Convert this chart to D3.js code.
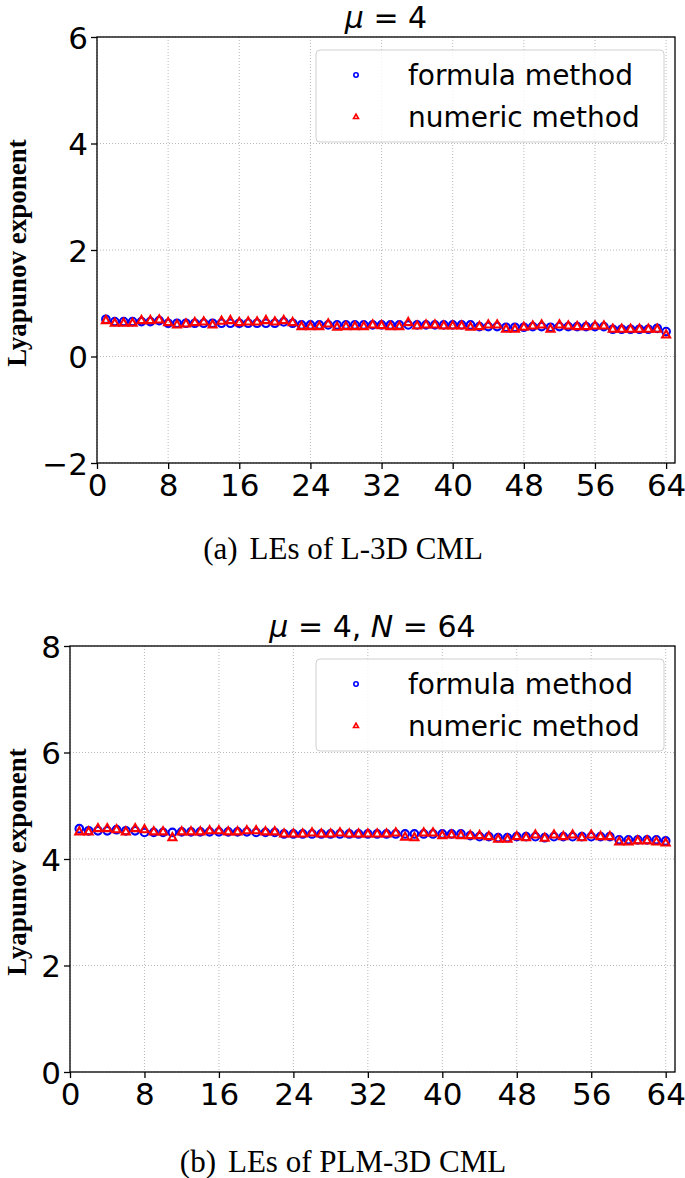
<!DOCTYPE html>
<html><head><meta charset="utf-8">
<script src="https://cdn.jsdelivr.net/npm/d3@7"></script>
<style>body{margin:0;background:#fff}</style>
</head><body><svg id="c" width="685" height="1178" xmlns="http://www.w3.org/2000/svg"></svg>
<script>
// ---------- data ----------
const xIndex = d3.range(1, 65);
const xTicks = [0, 8, 16, 24, 32, 40, 48, 56, 64];
const yTicksTop = [-2, 0, 2, 4, 6];
const yTicksBottom = [0, 2, 4, 6, 8];
const seriesNames = ["formula method", "numeric method"];

const topFormula = [0.70,0.655,0.655,0.655,0.655,0.655,0.674,0.624,0.624,0.624,
  0.624,0.624,0.624,0.624,0.624,0.624,0.624,0.624,0.624,0.624,
  0.649,0.624,0.593,0.593,0.593,0.593,0.593,0.593,0.593,0.593,
  0.593,0.593,0.593,0.593,0.593,0.593,0.593,0.593,0.593,0.593,
  0.593,0.593,0.562,0.562,0.562,0.549,0.549,0.549,0.562,0.562,
  0.549,0.562,0.562,0.562,0.562,0.562,0.562,0.512,0.512,0.512,
  0.512,0.512,0.530,0.468];
const topNumeric = [0.674,0.624,0.624,0.624,0.674,0.674,0.687,0.637,0.593,0.612,
  0.637,0.649,0.593,0.662,0.674,0.637,0.649,0.649,0.674,0.649,
  0.674,0.637,0.562,0.562,0.562,0.612,0.549,0.562,0.562,0.562,
  0.593,0.580,0.562,0.562,0.637,0.574,0.593,0.593,0.574,0.574,
  0.574,0.549,0.562,0.593,0.593,0.512,0.512,0.549,0.574,0.593,
  0.512,0.593,0.574,0.562,0.562,0.574,0.574,0.512,0.512,0.512,
  0.512,0.512,0.512,0.405];

const bottomFormula = [4.57,4.53,4.53,4.53,4.55,4.53,4.53,4.50,4.50,4.50,
  4.50,4.51,4.51,4.51,4.51,4.51,4.51,4.51,4.51,4.50,
  4.50,4.50,4.47,4.47,4.47,4.47,4.47,4.47,4.47,4.47,
  4.47,4.47,4.47,4.47,4.47,4.47,4.47,4.47,4.47,4.47,
  4.47,4.47,4.44,4.42,4.42,4.40,4.40,4.42,4.42,4.42,
  4.40,4.42,4.42,4.42,4.42,4.42,4.42,4.42,4.36,4.36,
  4.36,4.36,4.36,4.34];
const bottomNumeric = [4.51,4.51,4.57,4.57,4.55,4.51,4.57,4.55,4.51,4.51,
  4.40,4.51,4.51,4.51,4.53,4.53,4.51,4.51,4.53,4.53,
  4.51,4.51,4.47,4.47,4.47,4.49,4.47,4.47,4.49,4.47,
  4.47,4.47,4.47,4.47,4.49,4.41,4.40,4.49,4.49,4.44,
  4.45,4.44,4.44,4.44,4.42,4.37,4.37,4.42,4.40,4.45,
  4.39,4.45,4.42,4.45,4.40,4.45,4.42,4.42,4.32,4.32,
  4.34,4.34,4.32,4.30];

// ---------- drawing ----------
const svg = d3.select("#c");
svg.append("rect").attr("width",685).attr("height",1178).attr("fill","#fff");

const SANS = "DejaVu Sans, sans-serif";
const SERIF = "Liberation Serif, Times New Roman, serif";

function trianglePath(cx, cy, r){
  return `M${cx},${cy-r*1.1}L${cx+r*0.95},${cy+r*0.6}L${cx-r*0.95},${cy+r*0.6}Z`;
}

function drawPanel(cfg){
  const g = svg.append("g");
  const x = d3.scaleLinear().domain([0,65]).range([cfg.left, cfg.right]);
  const y = d3.scaleLinear().domain(cfg.yDomain).range([cfg.bottom, cfg.top]);

  // grid
  const grid = g.append("g").attr("stroke","#b0b0b0").attr("stroke-width",0.9).attr("stroke-dasharray","1,2");
  grid.selectAll("line.gx").data(xTicks).join("line")
    .attr("x1",d=>x(d)).attr("x2",d=>x(d)).attr("y1",cfg.top).attr("y2",cfg.bottom);
  grid.selectAll("line.gy").data(cfg.yTicks).join("line")
    .attr("y1",d=>y(d)).attr("y2",d=>y(d)).attr("x1",cfg.left).attr("x2",cfg.right);

  // axes
  const xAxis = d3.axisBottom(x).tickValues(xTicks).tickSize(6).tickPadding(3).tickFormat(d3.format("d"));
  const yAxis = d3.axisLeft(y).tickValues(cfg.yTicks).tickSize(6).tickPadding(3)
     .tickFormat(d => d < 0 ? "\u2212" + Math.abs(d) : d);
  const gx = g.append("g").attr("transform",`translate(0,${cfg.bottom})`).call(xAxis);
  const gy = g.append("g").attr("transform",`translate(${cfg.left},0)`).call(yAxis);
  [gx, gy].forEach(a => {
    a.select(".domain").remove();
    a.selectAll("line").attr("stroke","#000").attr("stroke-width",1.3);
    a.selectAll("text").attr("font-family",SANS).attr("font-size",31).attr("fill","#000");
  });
  gx.selectAll("text").attr("dy","0.78em");
  gy.selectAll("text").attr("dy","0.36em");

  // frame
  g.append("rect").attr("x",cfg.left).attr("y",cfg.top)
    .attr("width",cfg.right-cfg.left).attr("height",cfg.bottom-cfg.top)
    .attr("fill","none").attr("stroke","#000").attr("stroke-width",1.3);

  // points
  const pts = g.append("g");
  pts.selectAll("circle").data(cfg.formula).join("circle")
    .attr("cx",(d,i)=>x(xIndex[i])).attr("cy",d=>y(d)).attr("r",3.8)
    .attr("fill","none").attr("stroke","#0000ff").attr("stroke-width",2.1);
  pts.selectAll("path").data(cfg.numeric).join("path")
    .attr("d",(d,i)=>trianglePath(x(xIndex[i]), y(d), 4.2))
    .attr("fill","none").attr("stroke","#ff0000").attr("stroke-width",2.1).attr("stroke-linejoin","miter");

  // legend
  const lg = g.append("g");
  lg.append("rect").attr("x",cfg.legend.x).attr("y",cfg.legend.y)
    .attr("width",cfg.legend.w).attr("height",cfg.legend.h).attr("rx",4)
    .attr("fill","#fff").attr("fill-opacity",0.8).attr("stroke","#d0d0d0").attr("stroke-width",1);
  const lx = cfg.legend.x + 40, tx = cfg.legend.x + 92;
  const r1 = cfg.legend.y + 25, r2 = cfg.legend.y + 67;
  lg.append("circle").attr("cx",lx).attr("cy",r1).attr("r",2.2)
    .attr("fill","none").attr("stroke","#0000ff").attr("stroke-width",1.6);
  lg.append("path").attr("d",trianglePath(lx, r2, 2.6))
    .attr("fill","none").attr("stroke","#ff0000").attr("stroke-width",1.6);
  lg.selectAll("text").data(seriesNames).join("text")
    .attr("x",tx).attr("y",(d,i)=> i===0 ? r1 : r2).attr("dy","0.36em")
    .attr("font-family",SANS).attr("font-size",28).attr("fill","#000").text(d=>d);

  // title
  const t = g.append("text").attr("x",(cfg.left+cfg.right)/2).attr("y",cfg.top-9)
    .attr("text-anchor","middle").attr("font-family",SANS).attr("font-size",30).attr("fill","#000");
  cfg.title.forEach(p => t.append("tspan").attr("font-style",p.it?"italic":"normal").text(p.s));

  // y label
  g.append("text").attr("transform",`translate(26,${(cfg.top+cfg.bottom)/2+3}) rotate(-90)`)
    .attr("text-anchor","middle").attr("font-family",SERIF).attr("font-weight","bold")
    .attr("font-size",27).attr("fill","#000").text("Lyapunov exponent");

  // caption
  const c = g.append("text").attr("x",343).attr("y",cfg.captionY).attr("text-anchor","middle")
    .attr("font-family",SERIF).attr("font-size",31).attr("fill","#000");
  c.append("tspan").text(cfg.caption[0]);
  c.append("tspan").attr("dx",12).text(cfg.caption[1]);
}

drawPanel({
  left:97, right:675, top:37, bottom:463,
  yDomain:[-2,6], yTicks:yTicksTop,
  formula:topFormula, numeric:topNumeric,
  legend:{x:316, y:50, w:348, h:92},
  title:[{s:"\u03bc",it:true},{s:" = 4"}],
  caption:["(a)","LEs of L-3D CML"], captionY:559
});
drawPanel({
  left:70, right:675, top:646, bottom:1072,
  yDomain:[0,8], yTicks:yTicksBottom,
  formula:bottomFormula, numeric:bottomNumeric,
  legend:{x:316, y:659, w:348, h:92},
  title:[{s:"\u03bc",it:true},{s:" = 4, "},{s:"N",it:true},{s:" = 64"}],
  caption:["(b)","LEs of PLM-3D CML"], captionY:1172
});
</script>
</body></html>
